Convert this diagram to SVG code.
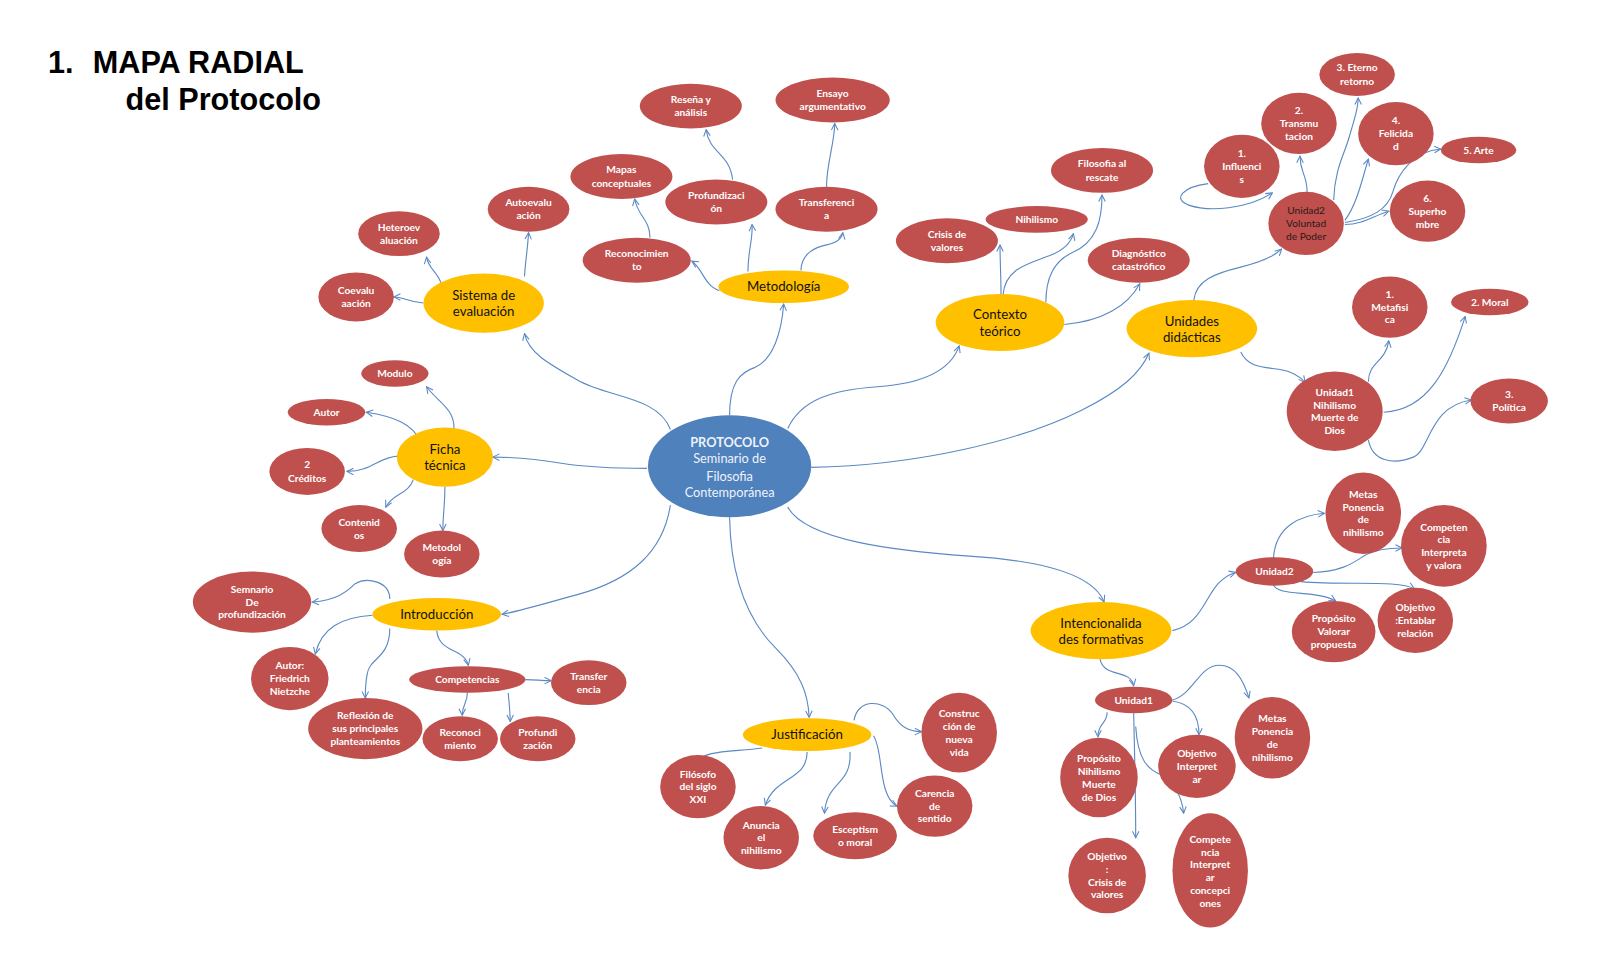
<svg xmlns="http://www.w3.org/2000/svg" width="1600" height="960" viewBox="0 0 1600 960">
<defs>
<marker id="ah" viewBox="0 0 10 10" refX="9" refY="5" markerWidth="8" markerHeight="8" markerUnits="userSpaceOnUse" orient="auto">
<path d="M1,1 L9,5 L1,9" fill="none" stroke="#5a89c4" stroke-width="1.3"/>
</marker>
<style>
.c path{fill:none;stroke:#5a89c4;stroke-width:1.1;marker-end:url(#ah)}
.r ellipse{fill:#C0504D}
.y ellipse{fill:#FFC000}
.b ellipse{fill:#4F81BD}
.r text{font-family:Lato,"Liberation Sans",sans-serif;font-size:10px;font-weight:700;fill:#fff;text-anchor:middle}
.r text.d{font-weight:400;fill:#2a1a1a}
.y text{font-family:Lato,"Liberation Sans",sans-serif;font-size:13px;fill:#111;text-anchor:middle}
.b text{font-family:Lato,"Liberation Sans",sans-serif;font-size:12.5px;fill:#eef3fb;text-anchor:middle}
.t{font-family:"Liberation Sans",Arial,sans-serif;font-size:30px;font-weight:700;fill:#000}
</style>
</defs>
<rect width="1600" height="960" fill="#fff"/>
<g transform="scale(1.0204)">
<g id="title">
<text class="t" x="47" y="72">1.</text>
<text class="t" x="91" y="72">MAPA RADIAL</text>
<text class="t" x="123" y="108">del Protocolo</text>
</g>
<g id="connectors" class="c">
<path d="M657,421 C645,388 595,390 565,372 C535,355 518,345 514,327"/>
<path d="M715,407 C715,375 725,365 740,360 C758,352 766,325 768,298"/>
<path d="M772,420 C785,392 815,382 860,379 C905,376 932,362 940,339"/>
<path d="M795,458 C900,456 1000,432 1060,402 C1100,382 1118,365 1126,346"/>
<path d="M772,497 C790,530 880,540 950,545 C1030,550 1072,565 1082,590"/>
<path d="M715,507 C716,560 730,605 760,635 C785,660 792,680 793,703"/>
<path d="M657,495 C650,540 620,568 565,583 C525,594 505,600 492,602"/>
<path d="M634,459 C595,459 575,458 550,454 C522,449 505,448 483,448"/>
<path d="M432,277 C428,265 420,264 418,252"/>
<path d="M415,297 C400,296 395,291 386,291"/>
<path d="M514,271 C515,255 517,245 518,228"/>
<path d="M705,285 C690,280 688,262 678,256"/>
<path d="M733,266 C733,245 738,235 737,220"/>
<path d="M785,265 C785,248 800,242 810,240 C820,238 825,234 826,228"/>
<path d="M637,233 C637,215 625,212 622,195"/>
<path d="M718,176 C715,150 695,150 692,127"/>
<path d="M810,183 C810,160 818,140 818,121"/>
<path d="M981,289 C981,270 980,255 980,240"/>
<path d="M983,289 C985,262 1010,258 1030,250 C1045,244 1050,236 1052,229"/>
<path d="M1025,296 C1025,270 1035,255 1050,248 C1075,238 1080,215 1080,191"/>
<path d="M1043,318 C1080,315 1105,300 1117,278"/>
<path d="M1170,294 C1172,275 1190,268 1215,262 C1240,256 1250,250 1256,244"/>
<path d="M1216,345 C1225,365 1250,358 1265,365 C1272,368 1276,371 1279,375"/>
<path d="M1184,180 C1160,183 1148,195 1165,201 C1185,208 1222,205 1247,189"/>
<path d="M1281,189 C1281,170 1274,170 1274,153"/>
<path d="M1307,196 C1308,165 1318,150 1322,135 C1328,115 1331,105 1331,96"/>
<path d="M1318,216 C1330,200 1335,175 1341,156"/>
<path d="M1318,218 C1345,214 1360,205 1365,188 C1370,170 1385,148 1412,146"/>
<path d="M1318,220 C1335,220 1345,212 1361,207"/>
<path d="M1341,374 C1341,355 1358,355 1361,334"/>
<path d="M1356,404 C1400,402 1420,360 1436,310"/>
<path d="M1341,431 C1345,452 1365,456 1385,448 C1402,441 1400,398 1442,392"/>
<path d="M445,420 C445,400 430,395 418,379"/>
<path d="M412,433 C405,415 385,408 359,404"/>
<path d="M390,447 C370,448 365,462 340,462"/>
<path d="M405,470 C400,485 385,483 378,497"/>
<path d="M436,477 C436,495 434,505 434,520"/>
<path d="M382,587 C382,570 360,565 348,572 C340,580 330,588 306,590"/>
<path d="M365,603 C335,605 315,615 309,641"/>
<path d="M382,616 C382,645 362,645 360,660 C358,670 358,678 358,684"/>
<path d="M428,618 C430,640 455,635 459,652"/>
<path d="M515,666 C525,666 530,667 540,667"/>
<path d="M458,679 C458,690 453,690 453,701"/>
<path d="M498,679 C499,690 500,698 500,707"/>
<path d="M837,706 C840,685 865,685 875,700 C882,712 890,717 903,717"/>
<path d="M747,733 C720,737 687,735 685,747"/>
<path d="M791,737 C791,765 760,760 750,789"/>
<path d="M833,737 C835,770 810,765 808,797"/>
<path d="M856,721 C866,735 860,780 879,790"/>
<path d="M1149,618 C1185,610 1180,570 1211,561"/>
<path d="M1248,547 C1250,515 1275,505 1298,503"/>
<path d="M1287,561 C1320,560 1330,548 1340,543 C1350,538 1360,537 1374,537"/>
<path d="M1248,573 C1252,585 1290,578 1309,589"/>
<path d="M1275,570 C1320,574 1370,568 1386,577"/>
<path d="M1078,646 C1082,665 1108,655 1111,672"/>
<path d="M1085,698 C1085,710 1076,708 1076,722"/>
<path d="M1111,699 C1112,740 1113,790 1113,821"/>
<path d="M1149,687 C1170,690 1175,705 1175,720"/>
<path d="M1149,686 C1170,680 1175,652 1195,652 C1210,652 1218,665 1224,684"/>
<path d="M1113,712 C1115,745 1125,755 1140,760 C1152,770 1158,780 1160,797"/>
</g>

<g id="protocolo" class="b"><ellipse cx="715" cy="457" rx="80" ry="50"/>
<text x="715" y="438" font-weight="700">PROTOCOLO</text><text x="715" y="454">Seminario de</text><text x="715" y="471">Filosofia</text><text x="715" y="487">Contemporánea</text></g>

<g id="sistema" class="y"><ellipse cx="474" cy="297" rx="59" ry="29"/><text x="474" y="294">Sistema de</text><text x="474" y="310">evaluación</text></g>
<g id="metodologia" class="y"><ellipse cx="768" cy="281" rx="64" ry="16"/><text x="768" y="285.5">Metodología</text></g>
<g id="contexto" class="y"><ellipse cx="980" cy="316" rx="63" ry="28"/><text x="980" y="313">Contexto</text><text x="980" y="329">teórico</text></g>
<g id="unidades" class="y"><ellipse cx="1168" cy="322" rx="64" ry="28"/><text x="1168" y="319">Unidades</text><text x="1168" y="335">didácticas</text></g>
<g id="ficha" class="y"><ellipse cx="436" cy="448" rx="47" ry="29"/><text x="436" y="445">Ficha</text><text x="436" y="461">técnica</text></g>
<g id="introduccion" class="y"><ellipse cx="428" cy="602" rx="63" ry="16"/><text x="428" y="606.5">Introducción</text></g>
<g id="justificacion" class="y"><ellipse cx="791" cy="720" rx="63" ry="16"/><text x="791" y="724.5">Justificación</text></g>
<g id="intencionalidades" class="y"><ellipse cx="1079" cy="618" rx="69" ry="28"/><text x="1079" y="615">Intencionalida</text><text x="1079" y="631">des formativas</text></g>

<g id="heteroevaluacion" class="r"><ellipse cx="391" cy="229" rx="40" ry="22"/><text x="391" y="226">Heteroev</text><text x="391" y="239">aluación</text></g>
<g id="coevaluacion" class="r"><ellipse cx="349" cy="291" rx="37" ry="24"/><text x="349" y="288">Coevalu</text><text x="349" y="301">aación</text></g>
<g id="autoevaluacion" class="r"><ellipse cx="518" cy="205" rx="40" ry="22"/><text x="518" y="202">Autoevalu</text><text x="518" y="215">ación</text></g>

<g id="resena" class="r"><ellipse cx="677" cy="104" rx="50" ry="22"/><text x="677" y="101">Reseña y</text><text x="677" y="114">análisis</text></g>
<g id="ensayo" class="r"><ellipse cx="816" cy="98" rx="56" ry="22"/><text x="816" y="95">Ensayo</text><text x="816" y="108">argumentativo</text></g>
<g id="mapas" class="r"><ellipse cx="609" cy="173" rx="50" ry="22"/><text x="609" y="170">Mapas</text><text x="609" y="183">conceptuales</text></g>
<g id="profundizacion-m" class="r"><ellipse cx="702" cy="198" rx="50" ry="22"/><text x="702" y="195">Profundizaci</text><text x="702" y="208">ón</text></g>
<g id="transferencia-m" class="r"><ellipse cx="810" cy="205" rx="50" ry="22"/><text x="810" y="202">Transferenci</text><text x="810" y="215">a</text></g>
<g id="reconocimiento-m" class="r"><ellipse cx="624" cy="255" rx="53" ry="22"/><text x="624" y="252">Reconocimien</text><text x="624" y="265">to</text></g>

<g id="filosofia-rescate" class="r"><ellipse cx="1080" cy="167" rx="50" ry="22"/><text x="1080" y="164">Filosofia al</text><text x="1080" y="177">rescate</text></g>
<g id="nihilismo" class="r"><ellipse cx="1016" cy="215" rx="50" ry="13"/><text x="1016" y="218.5">Nihilismo</text></g>
<g id="crisis" class="r"><ellipse cx="928" cy="236" rx="50" ry="22"/><text x="928" y="233">Crisis de</text><text x="928" y="246">valores</text></g>
<g id="diagnostico" class="r"><ellipse cx="1116" cy="255" rx="50" ry="22"/><text x="1116" y="252">Diagnóstico</text><text x="1116" y="265">catastrófico</text></g>

<g id="eterno" class="r"><ellipse cx="1330" cy="73" rx="37" ry="21"/><text x="1330" y="70">3. Eterno</text><text x="1330" y="83">retorno</text></g>
<g id="transmutacion" class="r"><ellipse cx="1273" cy="121" rx="37" ry="30"/><text x="1273" y="112">2.</text><text x="1273" y="124.5">Transmu</text><text x="1273" y="137">tacion</text></g>
<g id="influencis" class="r"><ellipse cx="1217" cy="163" rx="37" ry="31"/><text x="1217" y="154">1.</text><text x="1217" y="166.5">Influenci</text><text x="1217" y="179">s</text></g>
<g id="felicidad" class="r"><ellipse cx="1368" cy="131" rx="37" ry="31"/><text x="1368" y="122">4.</text><text x="1368" y="134.5">Felicida</text><text x="1368" y="147">d</text></g>
<g id="arte" class="r"><ellipse cx="1449" cy="147" rx="37" ry="13"/><text x="1449" y="150.5">5. Arte</text></g>
<g id="superhombre" class="r"><ellipse cx="1399" cy="207" rx="37" ry="30"/><text x="1399" y="198">6.</text><text x="1399" y="210.5">Superho</text><text x="1399" y="223">mbre</text></g>
<g id="unidad2-vp" class="r"><ellipse cx="1280" cy="219" rx="37" ry="31"/><text class="d" x="1280" y="210">Unidad2</text><text class="d" x="1280" y="222.5">Voluntad</text><text class="d" x="1280" y="235">de Poder</text></g>
<g id="metafisica" class="r"><ellipse cx="1362" cy="301" rx="37" ry="30"/><text x="1362" y="292">1.</text><text x="1362" y="304.5">Metafisi</text><text x="1362" y="317">ca</text></g>
<g id="moral" class="r"><ellipse cx="1460" cy="296" rx="38" ry="13"/><text x="1460" y="299.5">2. Moral</text></g>
<g id="politica" class="r"><ellipse cx="1479" cy="393" rx="38" ry="22"/><text x="1479" y="390">3.</text><text x="1479" y="403">Política</text></g>
<g id="unidad1-nm" class="r"><ellipse cx="1308" cy="403" rx="47" ry="39"/><text x="1308" y="388">Unidad1</text><text x="1308" y="400.5">Nihilismo</text><text x="1308" y="413">Muerte de</text><text x="1308" y="425.5">Dios</text></g>

<g id="modulo" class="r"><ellipse cx="387" cy="366" rx="33" ry="13"/><text x="387" y="369.5">Modulo</text></g>
<g id="autor" class="r"><ellipse cx="320" cy="404" rx="38" ry="13"/><text x="320" y="407.5">Autor</text></g>
<g id="creditos" class="r"><ellipse cx="301" cy="462" rx="37" ry="23"/><text x="301" y="459">2</text><text x="301" y="472">Créditos</text></g>
<g id="contenidos" class="r"><ellipse cx="352" cy="518" rx="37" ry="23"/><text x="352" y="515">Contenid</text><text x="352" y="528">os</text></g>
<g id="metodologia-f" class="r"><ellipse cx="433" cy="543" rx="37" ry="23"/><text x="433" y="540">Metodol</text><text x="433" y="553">ogía</text></g>

<g id="semnario" class="r"><ellipse cx="247" cy="590" rx="58" ry="30"/><text x="247" y="581">Semnario</text><text x="247" y="593.5">De</text><text x="247" y="606">profundización</text></g>
<g id="autor-fn" class="r"><ellipse cx="284" cy="665" rx="38" ry="31"/><text x="284" y="656">Autor:</text><text x="284" y="668.5">Friedrich</text><text x="284" y="681">Nietzche</text></g>
<g id="reflexion" class="r"><ellipse cx="358" cy="714" rx="56" ry="30"/><text x="358" y="705">Reflexión de</text><text x="358" y="717.5">sus principales</text><text x="358" y="730">planteamientos</text></g>
<g id="competencias" class="r"><ellipse cx="458" cy="666" rx="57" ry="13"/><text x="458" y="669.5">Competencias</text></g>
<g id="transferencia-i" class="r"><ellipse cx="577" cy="669" rx="37" ry="22"/><text x="577" y="666">Transfer</text><text x="577" y="679">encia</text></g>
<g id="reconocimiento-i" class="r"><ellipse cx="451" cy="724" rx="37" ry="22"/><text x="451" y="721">Reconoci</text><text x="451" y="734">miento</text></g>
<g id="profundizacion-i" class="r"><ellipse cx="527" cy="724" rx="37" ry="22"/><text x="527" y="721">Profundi</text><text x="527" y="734">zación</text></g>

<g id="construccion" class="r"><ellipse cx="940" cy="718" rx="37" ry="39"/><text x="940" y="703">Construc</text><text x="940" y="715.5">ción de</text><text x="940" y="728">nueva</text><text x="940" y="740.5">vida</text></g>
<g id="filosofo" class="r"><ellipse cx="684" cy="771" rx="37" ry="31"/><text x="684" y="762">Filósofo</text><text x="684" y="774.5">del siglo</text><text x="684" y="787">XXI</text></g>
<g id="anuncia" class="r"><ellipse cx="746" cy="821" rx="37" ry="31"/><text x="746" y="812">Anuncia</text><text x="746" y="824.5">el</text><text x="746" y="837">nihilismo</text></g>
<g id="esceptismo" class="r"><ellipse cx="838" cy="819" rx="41" ry="23"/><text x="838" y="816">Esceptism</text><text x="838" y="829">o moral</text></g>
<g id="carencia" class="r"><ellipse cx="916" cy="790" rx="37" ry="30"/><text x="916" y="781">Carencia</text><text x="916" y="793.5">de</text><text x="916" y="806">sentido</text></g>

<g id="unidad2-if" class="r"><ellipse cx="1249" cy="560" rx="38" ry="14"/><text x="1249" y="563.5">Unidad2</text></g>
<g id="metas2" class="r"><ellipse cx="1336" cy="503" rx="37" ry="40"/><text x="1336" y="488">Metas</text><text x="1336" y="500.5">Ponencia</text><text x="1336" y="513">de</text><text x="1336" y="525.5">nihilismo</text></g>
<g id="competencia2" class="r"><ellipse cx="1415" cy="535" rx="42" ry="40"/><text x="1415" y="520">Competen</text><text x="1415" y="532.5">cia</text><text x="1415" y="545">Interpreta</text><text x="1415" y="557.5">y valora</text></g>
<g id="proposito2" class="r"><ellipse cx="1307" cy="619" rx="41" ry="30"/><text x="1307" y="610">Propósito</text><text x="1307" y="622.5">Valorar</text><text x="1307" y="635">propuesta</text></g>
<g id="objetivo2" class="r"><ellipse cx="1387" cy="608" rx="37" ry="32"/><text x="1387" y="599">Objetivo</text><text x="1387" y="611.5">:Entablar</text><text x="1387" y="624">relación</text></g>

<g id="unidad1-if" class="r"><ellipse cx="1111" cy="686" rx="38" ry="13"/><text x="1111" y="689.5">Unidad1</text></g>
<g id="proposito1" class="r"><ellipse cx="1077" cy="762" rx="38" ry="39"/><text x="1077" y="747">Propósito</text><text x="1077" y="759.5">Nihilismo</text><text x="1077" y="772">Muerte</text><text x="1077" y="784.5">de Dios</text></g>
<g id="objetivo1" class="r"><ellipse cx="1173" cy="751" rx="38" ry="31"/><text x="1173" y="742">Objetivo</text><text x="1173" y="754.5">Interpret</text><text x="1173" y="767">ar</text></g>
<g id="metas1" class="r"><ellipse cx="1247" cy="723" rx="37" ry="40"/><text x="1247" y="708">Metas</text><text x="1247" y="720.5">Ponencia</text><text x="1247" y="733">de</text><text x="1247" y="745.5">nihilismo</text></g>
<g id="objetivo-crisis" class="r"><ellipse cx="1085" cy="858" rx="38" ry="37"/><text x="1085" y="843">Objetivo</text><text x="1085" y="855.5">:</text><text x="1085" y="868">Crisis de</text><text x="1085" y="880.5">valores</text></g>
<g id="competencia1" class="r"><ellipse cx="1186" cy="853" rx="37" ry="56"/><text x="1186" y="826">Compete</text><text x="1186" y="838.5">ncia</text><text x="1186" y="851">Interpret</text><text x="1186" y="863.5">ar</text><text x="1186" y="876">concepci</text><text x="1186" y="888.5">ones</text></g>
</g>
</svg>
